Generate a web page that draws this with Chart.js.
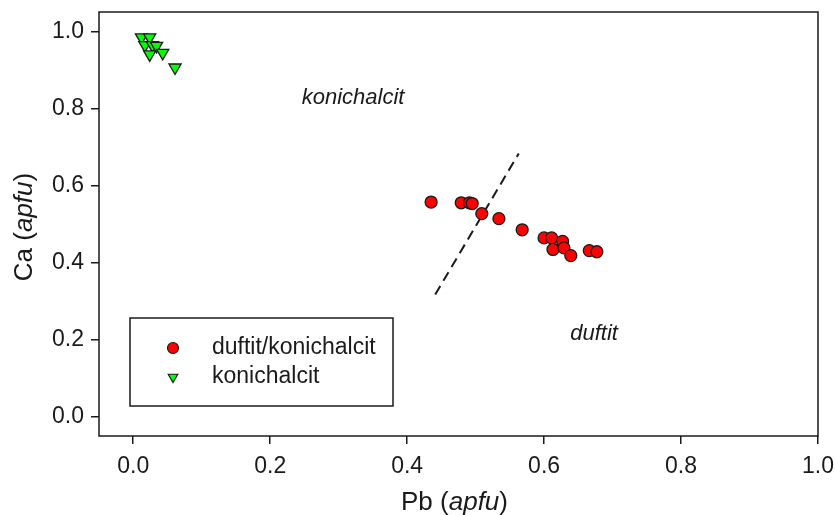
<!DOCTYPE html>
<html>
<head>
<meta charset="utf-8">
<script src="https://cdn.jsdelivr.net/npm/chart.js@4/dist/chart.umd.min.js"></script>
<style>
  html, body { margin: 0; padding: 0; background: #fff; }
  #wrap { width: 835px; height: 515px; }
</style>
</head>
<body>
<div id="wrap"><canvas id="c" width="835" height="515"></canvas></div>
<script>
// ---- data ----
const pbDuftit = [0.435, 0.479, 0.491, 0.495, 0.509, 0.534, 0.568, 0.600, 0.611, 0.627, 0.613, 0.629, 0.639, 0.666, 0.677];
const caDuftit = [0.557, 0.555, 0.555, 0.553, 0.527, 0.514, 0.485, 0.464, 0.464, 0.455, 0.434, 0.438, 0.418, 0.431, 0.428];
const pbKoni = [0.012, 0.024, 0.017, 0.028, 0.034, 0.024, 0.043, 0.061];
const caKoni = [0.984, 0.984, 0.964, 0.964, 0.962, 0.940, 0.944, 0.906];
const boundaryPb = [0.441, 0.563];
const boundaryCa = [0.317, 0.683];
const xTicks = [0.0, 0.2, 0.4, 0.6, 0.8, 1.0];
const yTicks = [0.0, 0.2, 0.4, 0.6, 0.8, 1.0];
const seriesNames = ['duftit/konichalcit', 'konichalcit'];
const fieldLabels = [
  { text: 'konichalcit', pb: 0.321, ca: 0.827 },
  { text: 'duftit', pb: 0.673, ca: 0.215 }
];

const toPts = (xs, ys) => xs.map((x, i) => ({ x: x, y: ys[i] }));
const FONT = "'Liberation Sans', Arial, sans-serif";
const INK = '#1a1a1a';

const framePlugin = {
  id: 'frame',
  afterDatasetsDraw(chart) {
    const { ctx, chartArea: a, scales } = chart;
    ctx.save();
    ctx.strokeStyle = INK;
    ctx.lineWidth = 1.5;
    ctx.strokeRect(a.left, a.top, a.right - a.left, a.bottom - a.top);

    ctx.fillStyle = INK;
    ctx.font = 'italic 22px ' + FONT;
    ctx.textAlign = 'center';
    ctx.textBaseline = 'middle';
    fieldLabels.forEach(l => {
      ctx.fillText(l.text, scales.x.getPixelForValue(l.pb), scales.y.getPixelForValue(l.ca));
    });

    // legend
    const lx = a.left + 31, ly = a.top + 306, lw = 263, lh = 88;
    ctx.fillStyle = '#fff';
    ctx.fillRect(lx, ly, lw, lh);
    ctx.strokeStyle = INK;
    ctx.lineWidth = 1.5;
    ctx.strokeRect(lx, ly, lw, lh);
    ctx.textAlign = 'left';
    ctx.font = '23px ' + FONT;
    const ds = chart.data.datasets;
    const r1y = ly + 30, r2y = ly + 59, mx = lx + 43, tx = lx + 82;
    ctx.beginPath();
    ctx.arc(mx, r1y, 5.5, 0, Math.PI * 2);
    ctx.fillStyle = ds[0].backgroundColor;
    ctx.fill();
    ctx.lineWidth = 1.2;
    ctx.strokeStyle = ds[0].borderColor;
    ctx.stroke();
    const tr = 5.5;
    ctx.beginPath();
    ctx.moveTo(mx - tr * 0.866, r2y - tr * 0.5);
    ctx.lineTo(mx + tr * 0.866, r2y - tr * 0.5);
    ctx.lineTo(mx, r2y + tr);
    ctx.closePath();
    ctx.fillStyle = ds[1].backgroundColor;
    ctx.fill();
    ctx.strokeStyle = ds[1].borderColor;
    ctx.stroke();
    ctx.fillStyle = INK;
    ctx.fillText(seriesNames[0], tx, r1y);
    ctx.fillText(seriesNames[1], tx, r2y);

    const drawMixed = (parts, cx, cy, rot) => {
      ctx.save();
      ctx.translate(cx, cy);
      ctx.rotate(rot);
      let total = 0;
      parts.forEach(p => { ctx.font = p[1] + '26px ' + FONT; p.w = ctx.measureText(p[0]).width; total += p.w; });
      let x = -total / 2;
      ctx.textAlign = 'left';
      ctx.textBaseline = 'middle';
      ctx.fillStyle = INK;
      parts.forEach(p => { ctx.font = p[1] + '26px ' + FONT; ctx.fillText(p[0], x, 0); x += p.w; });
      ctx.restore();
    };
    drawMixed([['Pb (', ''], ['apfu', 'italic '], [')', '']], (a.left + a.right) / 2 - 4, 503, 0);
    drawMixed([['Ca (', ''], ['apfu', 'italic '], [')', '']], 25, (a.top + a.bottom) / 2 + 3, -Math.PI / 2);
    ctx.restore();
  }
};

new Chart(document.getElementById('c'), {
  type: 'scatter',
  data: {
    datasets: [
      {
        label: seriesNames[0],
        data: toPts(pbDuftit, caDuftit),
        pointStyle: 'circle',
        pointRadius: 6,
        backgroundColor: '#ff0000',
        borderColor: '#1a1a1a',
        borderWidth: 1.3
      },
      {
        label: seriesNames[1],
        data: toPts(pbKoni, caKoni),
        pointStyle: 'triangle',
        rotation: 180,
        pointRadius: 7,
        backgroundColor: '#00ff00',
        borderColor: '#1a1a1a',
        borderWidth: 1.3
      },
      {
        label: 'boundary',
        data: toPts(boundaryPb, boundaryCa),
        showLine: true,
        pointRadius: 0,
        borderColor: '#1a1a1a',
        borderWidth: 2,
        borderDash: [10, 6],
        fill: false
      }
    ]
  },
  options: {
    responsive: false,
    animation: false,
    layout: { padding: { top: 12, right: 17, left: 0, bottom: 0 } },
    plugins: { legend: { display: false }, tooltip: { enabled: false } },
    scales: {
      x: {
        type: 'linear',
        min: -0.05, max: 1.0,
        afterBuildTicks: s => { s.ticks = xTicks.map(v => ({ value: v })); },
        afterFit: s => { s.height = 79; s.paddingLeft = 0; s.paddingRight = 0; },
        grid: { display: true, drawOnChartArea: false, drawTicks: true, tickLength: 8, color: INK, lineWidth: 1.5 },
        border: { display: false },
        ticks: { color: INK, font: { family: FONT, size: 23 }, padding: 9, maxRotation: 0,
          callback: v => v.toFixed(1) }
      },
      y: {
        type: 'linear',
        min: -0.05, max: 1.05,
        afterBuildTicks: s => { s.ticks = yTicks.map(v => ({ value: v })); },
        afterFit: s => { s.width = 99; s.paddingTop = 0; s.paddingBottom = 0; },
        grid: { display: true, drawOnChartArea: false, drawTicks: true, tickLength: 8, color: INK, lineWidth: 1.5 },
        border: { display: false },
        ticks: { color: INK, font: { family: FONT, size: 23 }, padding: 7,
          callback: v => v.toFixed(1) }
      }
    }
  },
  plugins: [framePlugin]
});
</script>
</body>
</html>
